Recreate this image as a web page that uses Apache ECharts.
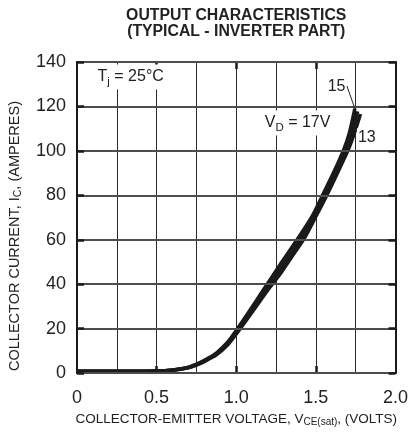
<!DOCTYPE html>
<html>
<head>
<meta charset="utf-8">
<script src="https://cdn.jsdelivr.net/npm/echarts@6/dist/echarts.min.js"></script>
<style>
html,body{margin:0;padding:0;background:#fff;}
#c{width:411px;height:432px;}
</style>
</head>
<body>
<div id="c"></div>
<script>
// ---- data ----
const titleLines = ['OUTPUT CHARACTERISTICS', '(TYPICAL - INVERTER PART)'];
const xLabelValues = [0, 0.5, 1.0, 1.5, 2.0];
const xTickValues = [0.5, 1.0, 1.5];
const yLabelValues = [0, 20, 40, 60, 80, 100, 120, 140];

// V_D = 17V curve (upper / left edge of band)
const volts17 = [0, 0.25, 0.5, 0.6, 0.7, 0.75, 0.8, 0.875, 0.95, 1.0, 1.06, 1.125, 1.19, 1.245, 1.32, 1.405, 1.48, 1.542, 1.61, 1.672, 1.71, 1.745];
const amps17  = [0.8, 0.8, 0.9, 1.4, 2.6, 4.0, 5.7, 9.0, 14.2, 19.2, 25.5, 32.5, 39.5, 45.5, 53.5, 62.5, 71, 80, 90, 100, 108, 119];
// 15V curve (middle)
const volts15 = [0, 0.25, 0.5, 0.6, 0.7, 0.75, 0.8, 0.875, 0.95, 1.0, 1.06, 1.125, 1.19, 1.26, 1.34, 1.415, 1.49, 1.555, 1.62, 1.686, 1.725, 1.762];
const amps15  = [0.8, 0.8, 0.9, 1.35, 2.5, 3.8, 5.5, 8.7, 13.7, 18.4, 24.5, 31.2, 38.2, 44.8, 53, 61.5, 70.5, 80, 89.5, 100, 108, 117.8];
// 13V curve (lower / right edge of band)
const volts13 = [0, 0.25, 0.5, 0.6, 0.7, 0.75, 0.8, 0.875, 0.95, 1.0, 1.06, 1.125, 1.2, 1.27, 1.35, 1.43, 1.5, 1.568, 1.635, 1.70, 1.742, 1.78];
const amps13  = [0.8, 0.8, 0.9, 1.3, 2.4, 3.6, 5.2, 8.2, 13.0, 17.6, 23.5, 30, 37.5, 44, 52.5, 61, 70.5, 80, 90, 100, 108, 116.6];

// annotation anchors in data units [volts, amps]
const tjAnchor = [0.11, 133.3];
const vdAnchor = [1.16, 112.6];
const label15Anchor = [1.63, 128.9];
const label13Anchor = [1.82, 106.1];
const leaderStart = [1.695, 129.2];

const FONT = '"Liberation Sans", Arial, Helvetica, sans-serif';
const INK = '#1a1a1a';
const TXT = '#222';

function pairs(xs, ys){ return xs.map((v,i)=>[v, ys[i]]); }

const chart = echarts.init(document.getElementById('c'), null, {renderer:'canvas'});

const curveStyle = {color: INK, width: 3.6, cap: 'butt', join: 'round'};
function curve(name, xs, ys){
  return {
    type:'line', name, data: pairs(xs, ys), smooth: 0.25, symbol:'none',
    xAxisIndex:0, yAxisIndex:0, lineStyle: curveStyle, z: 5, silent: true
  };
}
const hidden = {axisLine:{show:false}, axisTick:{show:false}, axisLabel:{show:false}};

const option = {
  backgroundColor:'#fff',
  animation:false,
  grid:{left:77, top:62, width:320, height:321},
  xAxis:[{
    type:'value', min:0, max:2, interval:0.25, position:'bottom',
    axisLine:{show:true, onZero:false, lineStyle:{color:INK, width:2}},
    axisTick:{show:true, inside:true, length:7, customValues:xTickValues, lineStyle:{color:INK, width:2.5}},
    axisLabel:{customValues:xLabelValues, formatter:v=> v===0 ? '0' : v.toFixed(1),
      fontSize:18, color:TXT, margin:16, fontFamily:FONT},
    splitLine:{show:false},
    name:'{a|COLLECTOR-EMITTER VOLTAGE, V}{s|CE(sat)}{a|, (VOLTS)}',
    nameLocation:'middle', nameGap:34,
    nameTextStyle:{rich:{
      a:{fontSize:13.5, color:TXT, fontFamily:FONT},
      s:{fontSize:10, color:TXT, fontFamily:FONT, padding:[6,0,0,0]}
    }}
  },{
    type:'value', min:0, max:2, interval:0.25, position:'top',
    axisLine:{show:true, onZero:false, lineStyle:{color:INK, width:2}},
    axisTick:{show:true, inside:true, length:7, customValues:xTickValues, lineStyle:{color:INK, width:2.5}},
    axisLabel:{show:false}, splitLine:{show:false}
  },{
    type:'value', min:0, max:2, interval:0.25, position:'bottom', ...hidden,
    splitLine:{show:true, lineStyle:{color:'#2a2a2a', width:1}}
  }],
  yAxis:[{
    type:'value', min:0, max:140, interval:20, position:'left', z:8,
    axisLine:{show:true, onZero:false, lineStyle:{color:INK, width:2}},
    axisTick:{show:true, inside:true, length:7, lineStyle:{color:INK, width:2.5}},
    axisLabel:{fontSize:18, color:TXT, margin:11, fontFamily:FONT},
    splitLine:{show:true, lineStyle:{color:'#4d4d4d', width:1.8}}
  },{
    type:'value', min:0, max:140, interval:20, position:'right', z:8,
    axisLine:{show:true, onZero:false, lineStyle:{color:INK, width:2}},
    axisTick:{show:true, inside:true, length:7, lineStyle:{color:INK, width:2.5}},
    axisLabel:{show:false}, splitLine:{show:false}
  }],
  series:[
    curve('13V', volts13, amps13),
    curve('15V', volts15, amps15),
    curve('17V', volts17, amps17)
  ]
};
chart.setOption(option);

const px = p => chart.convertToPixel({xAxisIndex:0, yAxisIndex:0}, p);
const tj = px(tjAnchor), vd = px(vdAnchor), l15 = px(label15Anchor), l13 = px(label13Anchor);
const ls = px(leaderStart), le = px([volts17[volts17.length-1], amps17[amps17.length-1]]);
const x0 = px([0,0]), x2 = px([2,0]);
const midX = (x0[0] + x2[0]) / 2;

const subRich = {a:{fontSize:16, fill:TXT, fontFamily:FONT}, s:{fontSize:11.5, fill:TXT, fontFamily:FONT, padding:[9,0,0,0]}};

chart.setOption({
  graphic:[
    {type:'text', x:midX, y:8, z:10, style:{text:titleLines.join('\n'), align:'center', verticalAlign:'top',
      font:'bold 15.8px '+FONT, fill:TXT, lineHeight:16}},
    {type:'text', x:15, y:236, rotation:Math.PI/2, z:10, style:{
      text:'{a|COLLECTOR CURRENT, I}{s|C}{a|, (AMPERES)}', align:'center', verticalAlign:'middle',
      rich:{a:{fontSize:14.5, fill:TXT, fontFamily:FONT}, s:{fontSize:10.5, fill:TXT, fontFamily:FONT, padding:[7,0,0,0]}}
    }},
    {type:'text', x:tj[0], y:tj[1], z:10, style:{text:'{a|T}{s|j}{a| = 25°C}', align:'left', verticalAlign:'middle',
      backgroundColor:'#fff', padding:[2,3,2,3], rich:subRich}},
    {type:'text', x:vd[0], y:vd[1], z:10, style:{text:'{a|V}{s|D}{a| = 17V}', align:'left', verticalAlign:'middle',
      backgroundColor:'#fff', padding:[2,3,2,3], rich:subRich}},
    {type:'text', x:l15[0], y:l15[1], z:10, style:{text:'15', align:'center', verticalAlign:'middle',
      backgroundColor:'#fff', padding:[1,1,1,1], font:'16px '+FONT, fill:TXT}},
    {type:'text', x:l13[0], y:l13[1], z:10, style:{text:'13', align:'center', verticalAlign:'middle',
      backgroundColor:'#fff', padding:[1,1,1,1], font:'16px '+FONT, fill:TXT}},
    {type:'line', z:10, shape:{x1:ls[0], y1:ls[1], x2:le[0], y2:le[1]}, style:{stroke:TXT, lineWidth:1}}
  ]
});
</script>
</body>
</html>
